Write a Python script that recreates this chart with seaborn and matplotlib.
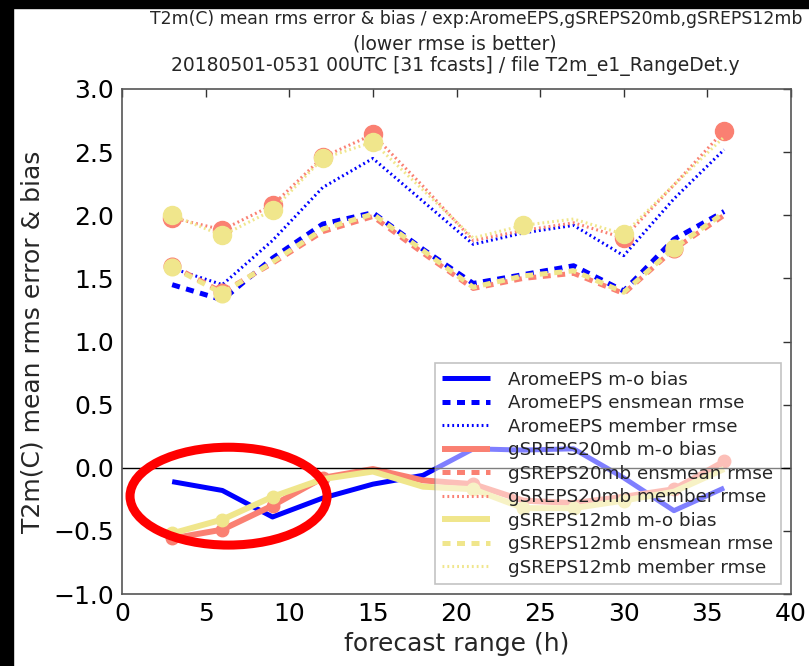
import matplotlib
matplotlib.use("Agg")
import matplotlib.pyplot as plt
import seaborn as sns
import numpy as np
import pandas as pd
from matplotlib.patches import Ellipse, Rectangle

# ---------------- data ----------------
ranges = [3, 6, 9, 12, 15, 18, 21, 24, 27, 30, 33, 36]

arome_bias = [-0.11, -0.18, -0.39, -0.24, -0.13, -0.06, 0.15, 0.14, 0.15, -0.08, -0.34, -0.16]
arome_ensmean = [1.45, 1.33, 1.66, 1.93, 2.02, 1.73, 1.46, 1.53, 1.60, 1.40, 1.81, 2.03]
arome_member = [1.58, 1.45, 1.80, 2.22, 2.45, 2.11, 1.77, 1.86, 1.92, 1.68, 2.13, 2.52]

g20_bias = [-0.56, -0.49, -0.30, -0.08, -0.01, -0.10, -0.13, -0.26, -0.28, -0.23, -0.17, 0.05]
g20_ensmean = [1.60, 1.39, 1.62, 1.87, 1.99, 1.70, 1.42, 1.50, 1.54, 1.38, 1.73, 2.00]
g20_member = [1.98, 1.885, 2.08, 2.46, 2.64, 2.23, 1.80, 1.88, 1.94, 1.82, 2.24, 2.67]

g12_bias = [-0.52, -0.41, -0.23, -0.09, -0.03, -0.15, -0.17, -0.32, -0.32, -0.26, -0.19, -0.01]
g12_ensmean = [1.59, 1.38, 1.63, 1.89, 2.01, 1.72, 1.43, 1.52, 1.56, 1.39, 1.74, 2.02]
g12_member = [2.00, 1.84, 2.04, 2.45, 2.58, 2.20, 1.82, 1.92, 1.97, 1.85, 2.24, 2.62]

# indices of points that carry a circle marker
g20_bias_marks = [0, 1, 2, 3, 6, 10, 11]
g12_bias_marks = [0, 1, 2, 6, 7, 8, 9]
g20_ens_marks = [0, 1, 10]
g12_ens_marks = [0, 1, 10]
g20_mem_marks = [0, 1, 2, 3, 4, 9, 11]
g12_mem_marks = [0, 1, 2, 3, 4, 7, 9]

experiments = ["AromeEPS", "gSREPS20mb", "gSREPS12mb"]
colors = {"AromeEPS": "#0000ff", "gSREPS20mb": "#fa8072", "gSREPS12mb": "#f0e68c"}

title_line1 = "T2m(C) mean rms error & bias / exp:AromeEPS,gSREPS20mb,gSREPS12mb"
title_line2 = "(lower rmse is better)"
title_line3 = "20180501-0531 00UTC [31 fcasts] / file T2m_e1_RangeDet.y"
xlabel = "forecast range (h)"
ylabel = "T2m(C) mean rms error & bias"

# ---------------- figure ----------------
sns.set_theme(style="white")
plt.rcParams["font.family"] = ["DejaVu Sans"]
plt.rcParams["axes.unicode_minus"] = True

W, H = 809, 666
fig = plt.figure(figsize=(W / 100, H / 100), dpi=100)
fig.patch.set_facecolor("white")
ax = fig.add_axes([122 / W, 1 - 594 / H, (791 - 122) / W, (594 - 89) / H])

series = {
    "AromeEPS": (arome_bias, arome_ensmean, arome_member, [], [], []),
    "gSREPS20mb": (g20_bias, g20_ensmean, g20_member, g20_bias_marks, g20_ens_marks, g20_mem_marks),
    "gSREPS12mb": (g12_bias, g12_ensmean, g12_member, g12_bias_marks, g12_ens_marks, g12_mem_marks),
}

for exp in experiments:
    bias, ens, mem, bm, em, mm = series[exp]
    c = colors[exp]
    blw = 3.6 if exp == "AromeEPS" else 4.3
    sns.lineplot(x=ranges, y=bias, ax=ax, color=c, lw=blw, label=f"{exp} m-o bias",
                 solid_capstyle="butt")
    sns.lineplot(x=ranges, y=ens, ax=ax, color=c, lw=3.6, label=f"{exp} ensmean rmse")
    ax.lines[-1].set_dashes((1.6, 1.3))
    sns.lineplot(x=ranges, y=mem, ax=ax, color=c, lw=2.2, label=f"{exp} member rmse")
    ax.lines[-1].set_dashes((0.6, 1.0))
    for vals, idx, ms in ((bias, bm, 9), (ens, em, 12), (mem, mm, 13)):
        if idx:
            ax.plot([ranges[i] for i in idx], [vals[i] for i in idx], ls="none",
                    marker="o", ms=ms, color=c, mec=c, label="_nolegend_")

ax.axhline(0, color="black", lw=1.0)

ell = Ellipse((6.37, -0.225), 11.78, 0.775, fill=False, edgecolor="#ff0000", lw=6.5, zorder=10)
ax.add_patch(ell)

ax.set_xlim(0, 40)
ax.set_ylim(-1.0, 3.0)
ax.set_xticks(np.arange(0, 41, 5))
ax.set_yticks(np.arange(-1.0, 3.01, 0.5))
ax.set_yticklabels([f"{v:.1f}".replace("-", "\u2212") for v in np.arange(-1.0, 3.01, 0.5)])
ax.tick_params(direction="in", top=True, right=True, length=6, width=1, labelsize=18,
               colors="#333333", labelcolor="black", pad=6)
for s in ax.spines.values():
    s.set_color("#555555")
    s.set_linewidth(1.2)
ax.set_xlabel(xlabel, fontsize=18, labelpad=4)
ax.set_ylabel(ylabel, fontsize=18, labelpad=6)

leg = ax.legend(loc="lower right", fontsize=13.2, framealpha=0.5, fancybox=False,
                edgecolor="#888888", handlelength=2.6, handletextpad=1.0, labelspacing=0.3,
                borderpad=0.4, borderaxespad=0.55)
leg.get_frame().set_linewidth(1.2)

fig.text(150 / W, 1 - 19 / H, title_line1, ha="left", va="center", fontsize=12.4)
fig.text(455 / W, 1 - 44 / H, title_line2, ha="center", va="center", fontsize=13.5)
fig.text(455 / W, 1 - 66 / H, title_line3, ha="center", va="center", fontsize=13.5)

# black borders of the screenshot
fig.patches.append(Rectangle((0, 0), 13 / W, 1, transform=fig.transFigure, color="black", zorder=5))
fig.patches.append(Rectangle((0, 1 - 8 / H), 1, 8 / H, transform=fig.transFigure, color="black", zorder=5))

fig.savefig("out.png", dpi=100)
